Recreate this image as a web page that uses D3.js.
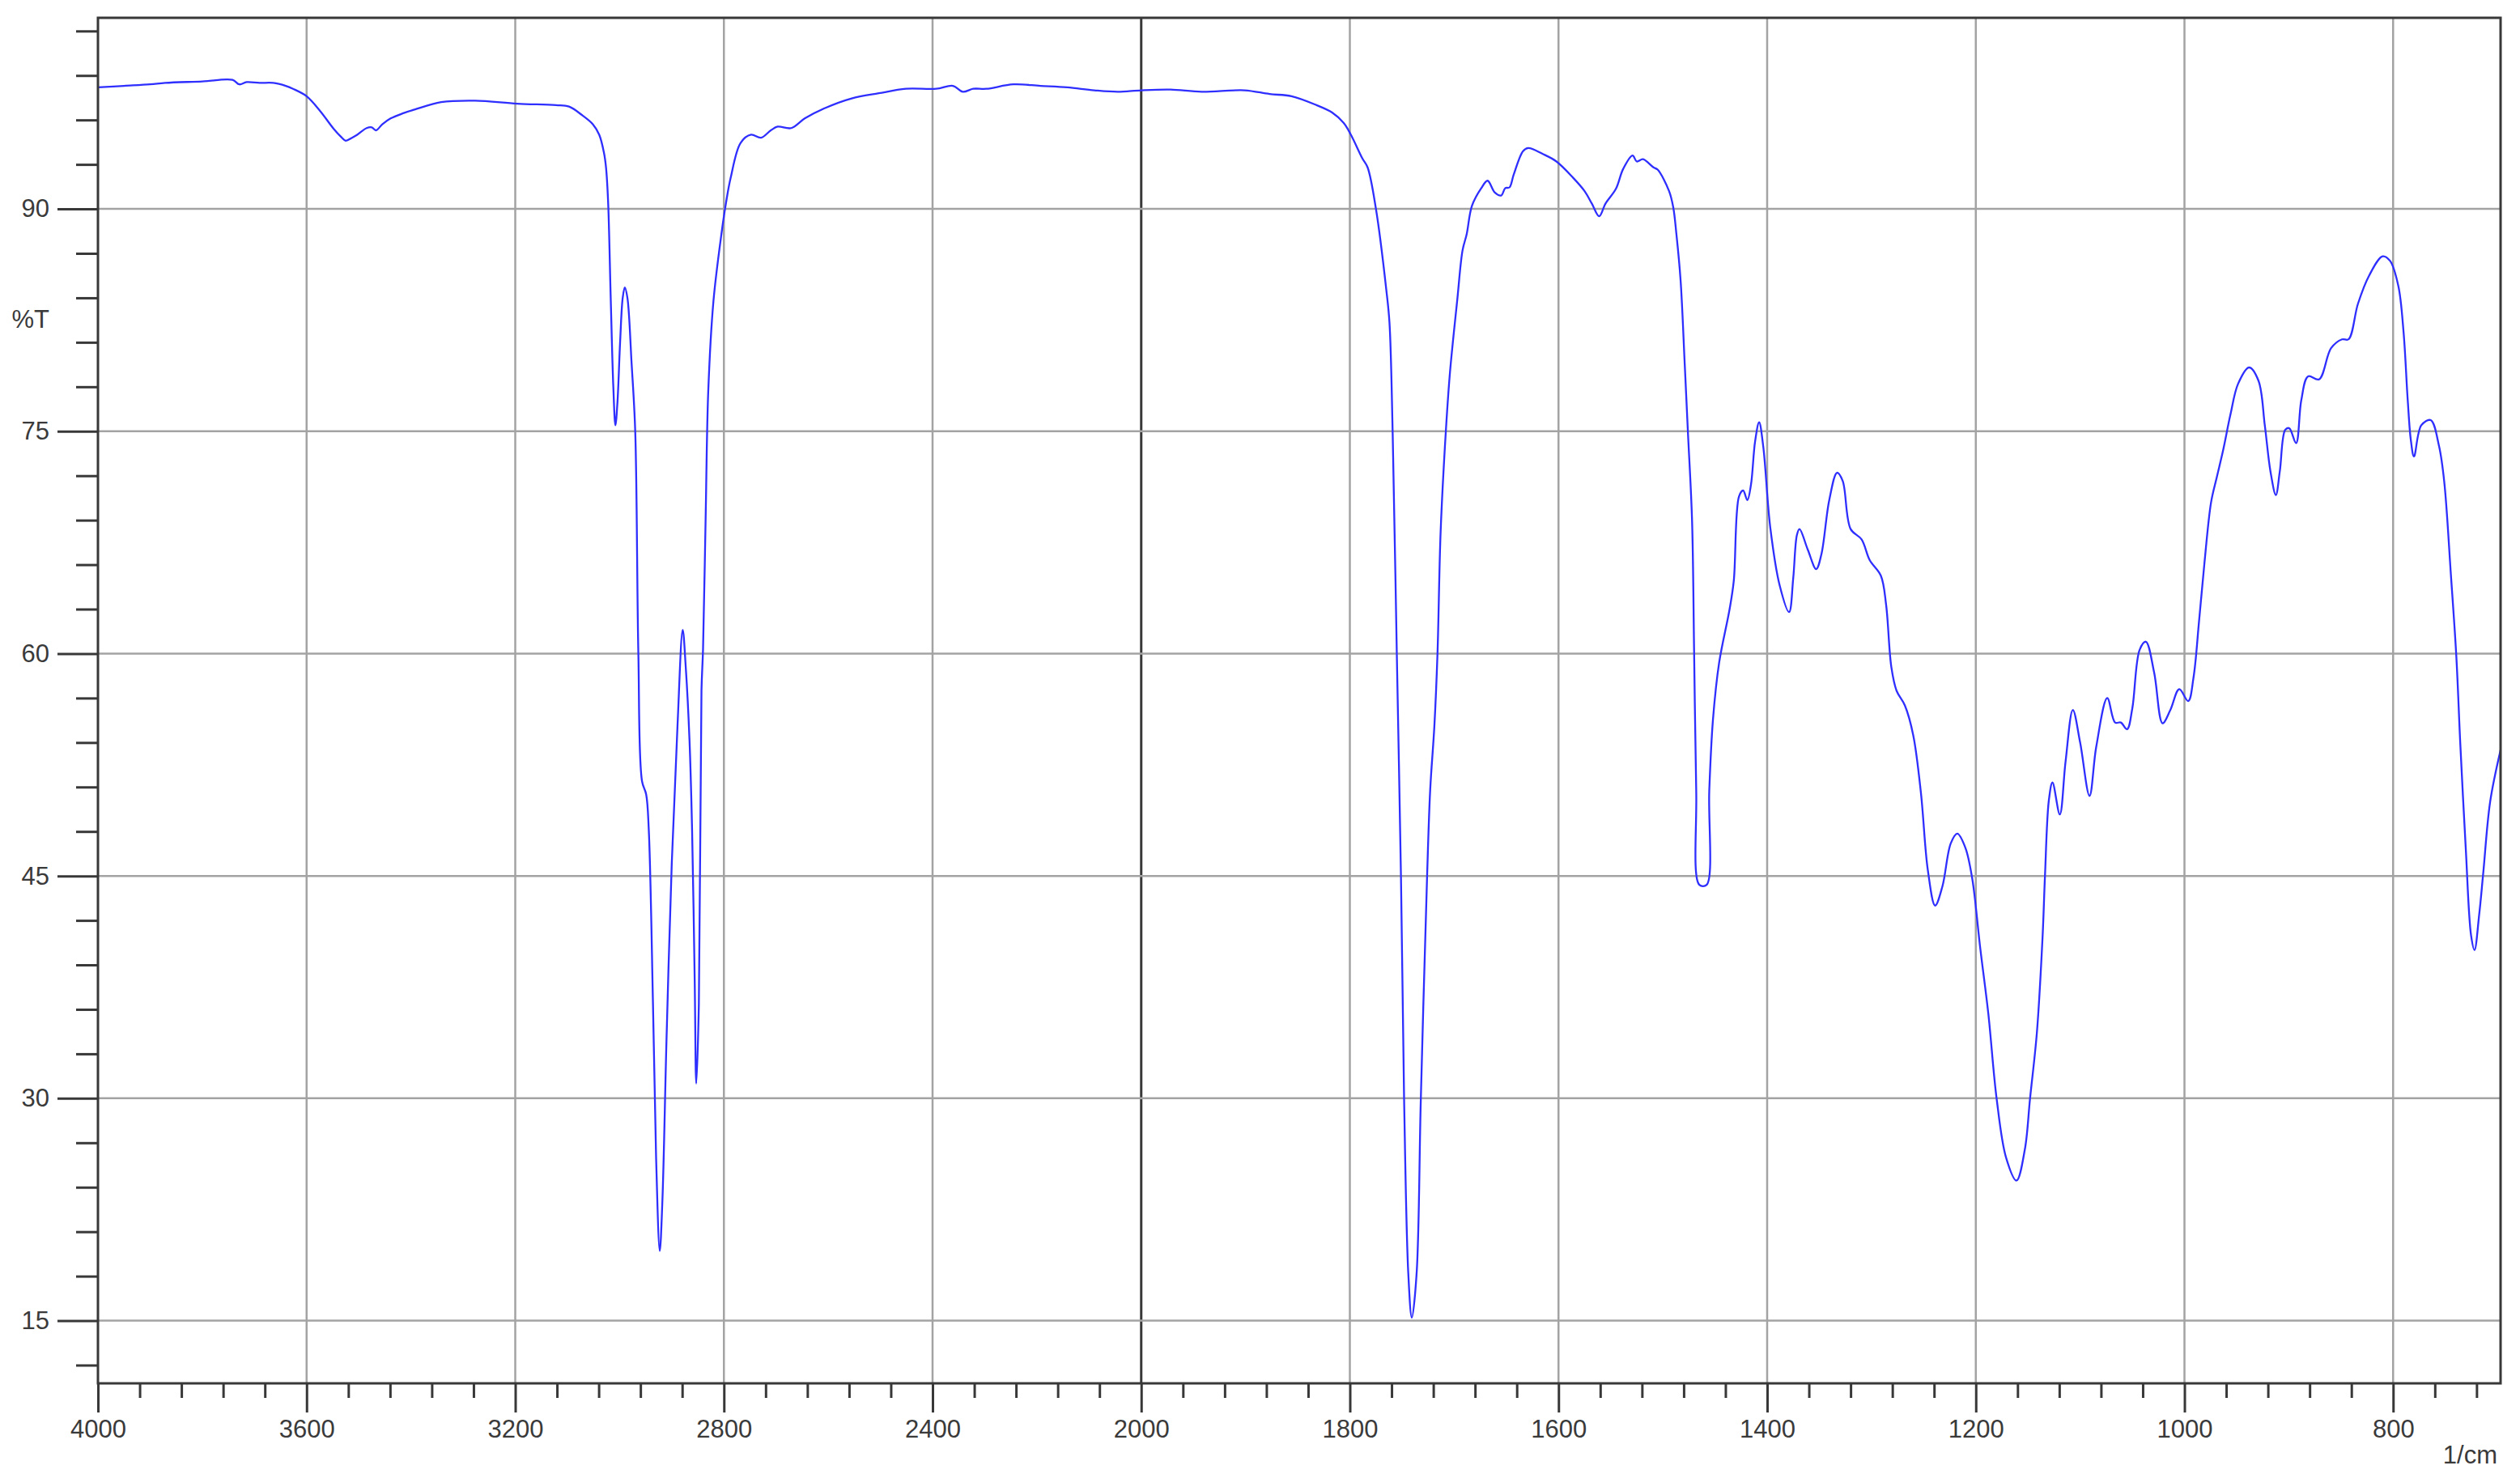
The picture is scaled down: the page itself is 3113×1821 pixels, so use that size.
<!DOCTYPE html>
<html>
<head>
<meta charset="utf-8">
<script src="https://cdn.jsdelivr.net/npm/d3@7"></script>
<style>
    html, body { margin: 0; padding: 0; background: #fff; }
    #vis { width: 3113px; height: 1821px; display: block; }
    text { font-family: Arial, "Liberation Sans", sans-serif; fill: #3a3a3a; }
</style>
</head>
<body>
<svg id="vis" width="3113" height="1821"></svg>
<script>
/**
 * Spectrum values (wavenumber in 1/cm, %T)
 */
const WAVENUMBERS = [
    4000, 3950, 3900, 3871, 3800, 3742, 3729, 3715, 3690, 3664, 3640, 3626, 3600, 3574, 3548, 3535,
    3525, 3513, 3503, 3485, 3475, 3467, 3455, 3439, 3415, 3393, 3342, 3277, 3196, 3122, 3097, 3071,
    3051, 3039, 3030, 3026, 3022, 3017, 3012, 3008, 3004, 2999, 2994, 2990, 2985, 2977, 2970, 2964,
    2957, 2949, 2944, 2936, 2930, 2923, 2918, 2910, 2900, 2889, 2879, 2873, 2866, 2861, 2856, 2853,
    2848, 2843, 2840, 2835, 2830, 2820, 2804, 2796, 2787, 2768, 2748, 2729, 2710, 2697, 2671, 2645,
    2606, 2555, 2503, 2451, 2393, 2361, 2342, 2322, 2297, 2245, 2193, 2142, 2090, 2045, 2000, 1972,
    1942, 1901, 1877, 1856, 1832, 1817, 1806, 1799, 1788, 1783, 1775, 1765, 1762, 1759, 1755, 1751,
    1748, 1744, 1740.6, 1736, 1732, 1726, 1723, 1719, 1716, 1713, 1708, 1704, 1697, 1692, 1688, 1683,
    1674, 1668, 1661, 1655, 1651, 1647, 1643, 1634, 1629, 1615, 1602, 1586, 1575, 1568, 1561, 1555,
    1545, 1538, 1529, 1525, 1519, 1509, 1505, 1494, 1490, 1487, 1483, 1479, 1476, 1472, 1470, 1468,
    1465, 1458, 1455.5, 1452, 1446, 1436, 1432, 1427, 1423, 1419, 1415.5, 1411.6, 1407.7, 1403.8, 1397, 1388,
    1379, 1375, 1371.5, 1369, 1361, 1353, 1348, 1340.5, 1333, 1327.6, 1320, 1309.5, 1301.7, 1291, 1286, 1281,
    1276, 1268, 1260, 1252.6, 1246, 1239, 1232, 1224, 1217.7, 1210, 1203.5, 1195.7, 1188, 1180, 1171, 1161,
    1153, 1148, 1141.5, 1136, 1133.7, 1130, 1126.5, 1119.5, 1114, 1107, 1100, 1091, 1084.6, 1074, 1066.5, 1061,
    1055, 1050, 1043, 1037, 1029, 1021, 1013.5, 1005, 996.4, 991.3, 986, 981, 974.5, 969, 963, 956,
    948.6, 938, 929, 923, 917.6, 912.4, 908.6, 903.4, 899.5, 893, 888, 881.5, 871, 859.5, 849, 842.7,
    833.7, 823, 810, 803, 795, 790, 786, 783, 780, 773, 764, 756, 751, 744.6, 739.4, 735.6,
    730.4, 725.3, 722, 717.5, 713.6, 707, 697
];
const TRANSMITTANCE = [
    98.2, 98.3, 98.4, 98.5, 98.6, 98.7, 98.4, 98.55, 98.5, 98.5, 98.3, 98.1, 97.6, 96.6, 95.4, 94.9,
    94.6, 94.8, 95.0, 95.45, 95.5, 95.3, 95.7, 96.1, 96.45, 96.7, 97.2, 97.3, 97.1, 97.0, 96.9, 96.3,
    95.7, 95.0, 93.8, 92.8, 90.5, 84, 78, 75.4, 77, 81, 84, 84.7, 84, 79.6, 75, 60,
    51.4, 50.5, 48.1, 36.4, 26, 19.7, 23, 34, 45.8, 55.1, 61.6, 59, 54.2, 48.1, 38, 31,
    36.4, 57.5, 60.3, 69.2, 77.7, 83.8, 88.5, 90.4, 92.1, 94.45, 95.0, 94.8, 95.3, 95.55, 95.45, 96.1,
    96.8, 97.45, 97.8, 98.1, 98.1, 98.3, 97.9, 98.1, 98.1, 98.4, 98.3, 98.2, 98.0, 97.9, 98.0, 98.05,
    97.9, 98.0, 97.75, 97.6, 97.0, 96.5, 95.8, 95.0, 93.4, 92.8, 90.0, 84.5, 82.3, 75, 60, 44.9,
    29.9, 18.2, 15.2, 18.2, 29.9, 44.9, 50.8, 55.1, 60, 68.2, 75, 79, 83.9, 87.2, 88.3, 90.2,
    91.4, 91.9, 91.1, 90.9, 91.4, 91.45, 92.3, 93.9, 94.1, 93.7, 93.2, 92.1, 91.2, 90.35, 89.5, 90.35,
    91.35, 92.7, 93.6, 93.2, 93.35, 92.8, 92.65, 91.2, 90.1, 88.3, 85.2, 79.5, 75, 69, 60, 50.75,
    44.4, 44.4, 50.75, 55.5, 59.4, 63, 64.9, 70.6, 71, 70.35, 71.4, 74.3, 75.6, 74, 68.5, 64.6,
    62.8, 65.1, 68, 68.4, 67, 65.7, 66.7, 70.35, 72.2, 71.65, 68.4, 67.7, 66.3, 65.25, 63.3, 59.1,
    57.5, 56.5, 54.5, 50.6, 45.4, 43, 44.3, 47.2, 47.85, 46.9, 44.85, 40.1, 35.7, 29.95, 26, 24.45,
    26.55, 30, 34.4, 40.9, 45, 50.1, 51.3, 49.15, 52.7, 56.2, 54, 50.4, 53.7, 57, 55.35, 55.35,
    54.9, 56.3, 60.25, 60.8, 58.7, 55.3, 56.2, 57.6, 56.8, 58.4, 62.2, 66, 70.2, 71.9, 73.7, 76.1,
    78.2, 79.3, 78.4, 75.4, 72.3, 70.7, 72.3, 75.1, 75.2, 74.2, 77.1, 78.7, 78.5, 80.6, 81.2, 81.2,
    83.6, 85.5, 86.8, 86.5, 84.8, 81.7, 77.1, 74.4, 73.3, 75.4, 75.75, 74, 71.6, 65.3, 59.8, 53.9,
    46.9, 41, 40, 42.4, 45.2, 50, 53.5
];

/**
 * Axis settings: the wavenumber axis is compressed 2:1 above 2000
 */
const X_DOMAIN = [4000, 2000, 697];
const Y_DOMAIN = [10.77, 102.89];
const X_MAJOR = [4000, 3600, 3200, 2800, 2400, 2000, 1800, 1600, 1400, 1200, 1000, 800];
const X_MINOR_HIGH_STEP = 80;
const X_MINOR_LOW_STEP = 40;
const Y_MAJOR = [15, 30, 45, 60, 75, 90];
const Y_MINOR_STEP = 3;
const X_LABEL = "1/cm";
const Y_LABEL = "%T";

const FRAME = {left: 121, top: 22, right: 3089, bottom: 1709};
const LINE_COLOUR = "#2e2eff";
const GRID_COLOUR = "#a3a3a3";
const AXIS_COLOUR = "#383838";

window.onload = function(){
    draw();
};

function draw(){
    var svg = d3.select("#vis");

    var x = d3.scaleLinear()
        .domain(X_DOMAIN)
        .range([FRAME.left, FRAME.left + (FRAME.right - FRAME.left) * 2000 / (2000 + 2 * (2000 - X_DOMAIN[2])), FRAME.right]);

    var y = d3.scaleLinear()
        .domain(Y_DOMAIN)
        .range([FRAME.bottom, FRAME.top]);

    // minor tick values
    var xMinor = [];
    for (var v = 4000; v > 2000; v -= X_MINOR_HIGH_STEP) xMinor.push(v);
    for (var v = 2000; v > X_DOMAIN[2]; v -= X_MINOR_LOW_STEP) xMinor.push(v);
    xMinor = xMinor.filter(d => X_MAJOR.indexOf(d) < 0);

    var yMinor = [];
    for (var v = 12; v < Y_DOMAIN[1]; v += Y_MINOR_STEP) {
        if (Y_MAJOR.indexOf(v) < 0) yMinor.push(v);
    }

    // gridlines
    var grid = svg.append("g").attr("class", "grid");
    grid.selectAll("line.gx")
        .data(X_MAJOR.filter(d => d !== 4000))
        .enter().append("line")
        .attr("class", "gx")
        .attr("x1", d => x(d)).attr("x2", d => x(d))
        .attr("y1", FRAME.top).attr("y2", FRAME.bottom)
        .attr("stroke", d => d === 2000 ? AXIS_COLOUR : GRID_COLOUR)
        .attr("stroke-width", d => d === 2000 ? 3 : 2.5);

    grid.selectAll("line.gy")
        .data(Y_MAJOR)
        .enter().append("line")
        .attr("class", "gy")
        .attr("x1", FRAME.left).attr("x2", FRAME.right)
        .attr("y1", d => y(d)).attr("y2", d => y(d))
        .attr("stroke", GRID_COLOUR)
        .attr("stroke-width", 2.5);

    // axes
    var xAxisMajor = svg.append("g")
        .attr("transform", `translate(0,${FRAME.bottom})`)
        .call(d3.axisBottom(x).tickValues(X_MAJOR).tickFormat(d3.format("d")).tickSize(36).tickPadding(9));
    var xAxisMinor = svg.append("g")
        .attr("transform", `translate(0,${FRAME.bottom})`)
        .call(d3.axisBottom(x).tickValues(xMinor).tickFormat("").tickSize(18));
    var yAxisMajor = svg.append("g")
        .attr("transform", `translate(${FRAME.left},0)`)
        .call(d3.axisLeft(y).tickValues(Y_MAJOR).tickFormat(d3.format("d")).tickSize(50).tickPadding(10));
    var yAxisMinor = svg.append("g")
        .attr("transform", `translate(${FRAME.left},0)`)
        .call(d3.axisLeft(y).tickValues(yMinor).tickFormat("").tickSize(27));

    [xAxisMajor, xAxisMinor, yAxisMajor, yAxisMinor].forEach(function(a){
        a.select(".domain").remove();
        a.selectAll(".tick line").attr("stroke", AXIS_COLOUR).attr("stroke-width", 3);
        a.selectAll(".tick text")
            .attr("fill", "#3a3a3a")
            .style("font-size", "31px")
            .style("font-family", "Arial, 'Liberation Sans', sans-serif");
    });

    // spectrum
    var data = WAVENUMBERS.map((w, i) => ({w: w, t: TRANSMITTANCE[i]}));
    var line = d3.line()
        .x(d => x(d.w))
        .y(d => y(d.t))
        .curve(d3.curveCatmullRom.alpha(0.5));

    svg.append("path")
        .datum(data)
        .attr("fill", "none")
        .attr("stroke", LINE_COLOUR)
        .attr("stroke-width", 2.3)
        .attr("stroke-linejoin", "round")
        .attr("d", line);

    // frame
    svg.append("rect")
        .attr("x", FRAME.left).attr("y", FRAME.top)
        .attr("width", FRAME.right - FRAME.left)
        .attr("height", FRAME.bottom - FRAME.top)
        .attr("fill", "none")
        .attr("stroke", AXIS_COLOUR)
        .attr("stroke-width", 3);

    // axis labels
    svg.append("text")
        .attr("x", FRAME.right - 4)
        .attr("y", 1808)
        .style("text-anchor", "end")
        .style("font-size", "31px")
        .text(X_LABEL);

    svg.append("text")
        .attr("x", 61)
        .attr("y", 405)
        .style("text-anchor", "end")
        .style("font-size", "31px")
        .text(Y_LABEL);
}
</script>
</body>
</html>
